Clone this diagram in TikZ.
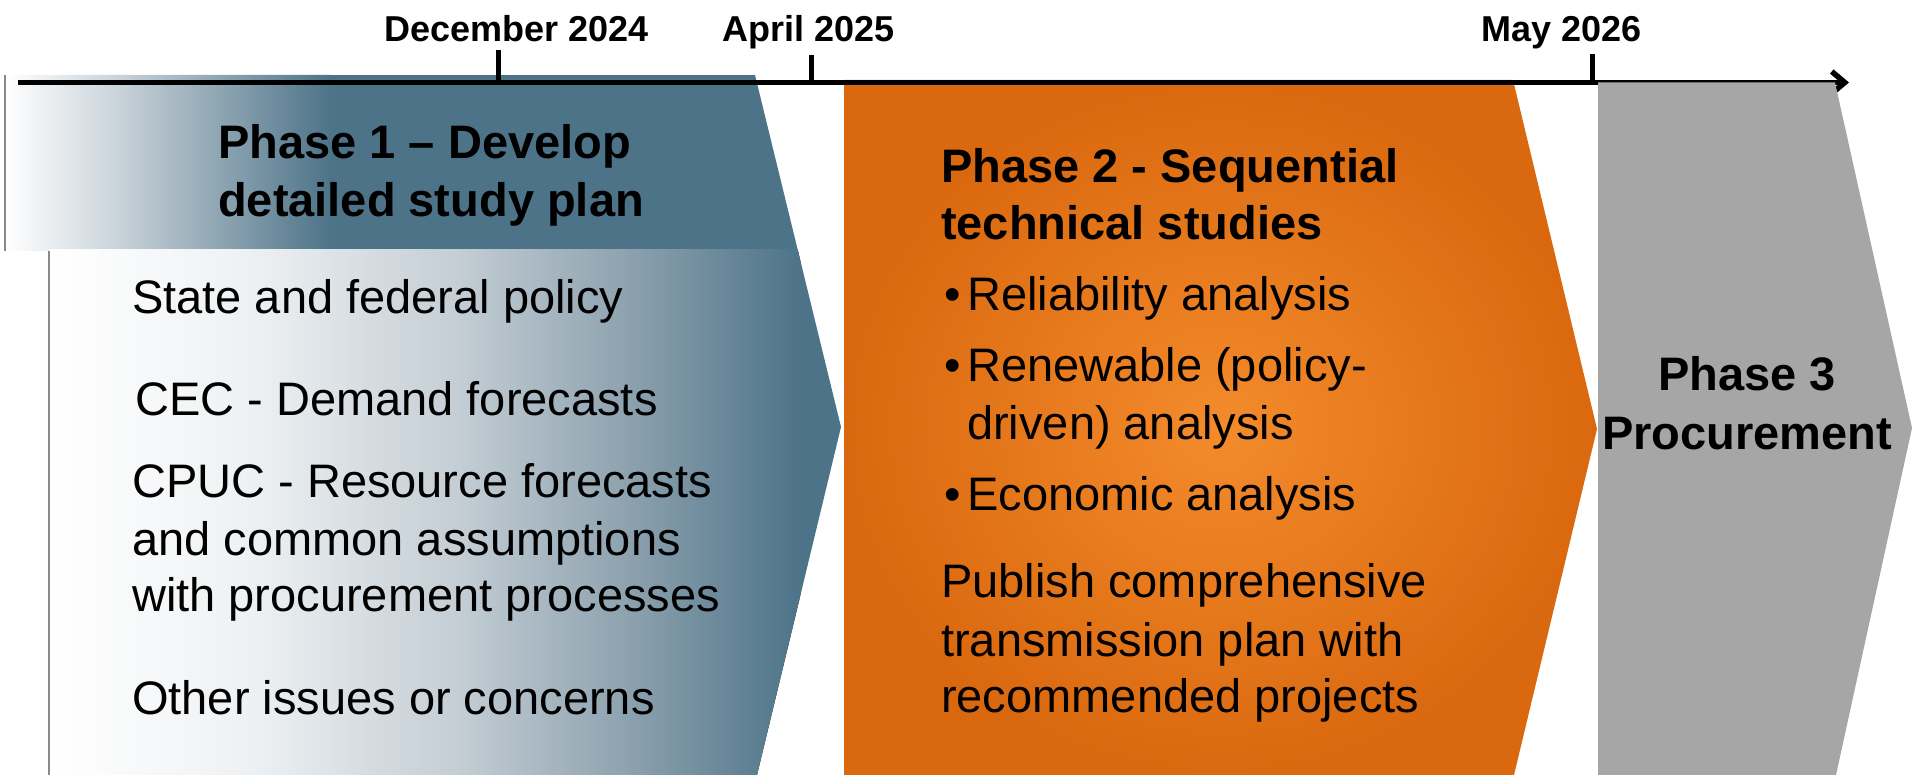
\documentclass[tikz,border=0pt]{standalone}
\usepackage{fontspec}
\setmainfont{Liberation Sans}
\usetikzlibrary{arrows.meta}
\definecolor{pblue}{HTML}{4D7388}
\definecolor{bla}{HTML}{C8D2D9}
\definecolor{blb}{HTML}{EEF1F3}
\definecolor{blc}{HTML}{C3CDD4}
\definecolor{bld}{HTML}{8CA1AE}
\definecolor{orout}{HTML}{DA680E}
\definecolor{orin}{HTML}{F38B2C}
\definecolor{pgray}{HTML}{A6A6A6}
\definecolor{edgegray}{HTML}{8A8A8A}
\begin{document}
\begin{tikzpicture}[x=1pt,y=-1pt,
  body/.style={anchor=base west, inner sep=0pt, font=\fontsize{47}{57}\selectfont},
  bodybf/.style={anchor=base west, inner sep=0pt, font=\fontsize{47}{57}\selectfont\bfseries},
  ctrbf/.style={anchor=base, inner sep=0pt, font=\fontsize{47}{57}\selectfont\bfseries},
  datelbl/.style={anchor=base west, inner sep=0pt, font=\fontsize{36}{42}\selectfont\bfseries},
  axisline/.style={line width=5.5pt, -{Straight Barb[length=13pt,width=22pt]}},
  tickline/.style={line width=5pt},
  edgeline/.style={edgegray, line width=1.6pt}]
\useasboundingbox (0,0) rectangle (1913,775);

% ---- Phase 1 shape
\begin{scope}
  \clip (5,75) -- (755,75) -- (841,427) -- (757,775) -- (49,775) -- (49,251) -- (5,251) -- cycle;
  \fill[left color=white, right color=bla] (5,75) rectangle (121,251);
  \fill[left color=bla, right color=pblue] (120,75) rectangle (331,251);
  \fill[pblue] (330,75) rectangle (900,251);
  \fill[left color=white, right color=blb] (49,250) rectangle (251,775);
  \fill[left color=blb, right color=blc] (250,250) rectangle (461,775);
  \fill[left color=blc, right color=bld] (460,250) rectangle (631,775);
  \fill[left color=bld, right color=pblue] (630,250) rectangle (801,775);
  \fill[pblue] (800,250) rectangle (900,775);
\end{scope}
\draw[edgeline] (5,75) -- (5,251);
\draw[edgeline] (49,251) -- (49,775);

% ---- Phase 2 shape
\shade[inner color=orin, outer color=orout] (844,80) -- (1513,80) -- (1597,429) -- (1514,775) -- (844,775) -- cycle;

% ---- timeline
\coordinate (tl0) at (18,82.5);
\coordinate (tl1) at (1849,82.5);
\coordinate (tdec) at (498,82.5);
\coordinate (tapr) at (811,82.5);
\coordinate (tmay) at (1592,82.5);
\draw[axisline] (tl0) -- (tl1);
\draw[tickline] (tdec) -- ++(0,-32);
\draw[tickline] (tapr) -- ++(0,-27);
\draw[tickline] (tmay) -- ++(0,-28);

% ---- Phase 3 shape
\fill[pgray] (1598,82.5) -- (1835,82.5) -- (1912,428) -- (1836,775) -- (1598,775) -- cycle;

% ---- date labels
\node[datelbl] (dec) at (384,42) {December 2024};
\node[datelbl] (apr) at (722,42) {April 2025};
\node[datelbl] (may) at (1481,42) {May 2026};

% ---- Phase 1 texts
\node[bodybf] (t1a) at (218,159) {Phase 1 – Develop};
\node[bodybf] (t1b) at (218,217) {detailed study plan};
\node[body] (l1) at (132,314) {State and federal policy};
\node[body] (l2) at (135,415) {CEC - Demand forecasts};
\node[body] (l3a) at (132,497) {CPUC - Resource forecasts};
\node[body] (l3b) at (132,555) {and common assumptions};
\node[body] (l3c) at (132,611) {with procurement processes};
\node[body] (l4) at (132,714) {Other issues or concerns};

% ---- Phase 2 texts
\node[bodybf] (t2a) at (941,183) {Phase 2 - Sequential};
\node[bodybf] (t2b) at (941,240) {technical studies};
\node[body] (bu1) at (944,311) {•};
\node[body] (b1) at (967,311) {Reliability analysis};
\node[body] (bu2) at (944,381) {•};
\node[body] (b2a) at (967,381) {Renewable (policy-};
\node[body] (b2b) at (967,439) {driven) analysis};
\node[body] (bu3) at (944,510) {•};
\node[body] (b3) at (967,510) {Economic analysis};
\node[body] (pub1) at (941,597) {Publish comprehensive};
\node[body] (pub2) at (941,656) {transmission plan with};
\node[body] (pub3) at (941,712) {recommended projects};

% ---- Phase 3 texts
\node[ctrbf] (t3a) at (1747,390) {Phase 3};
\node[ctrbf] (t3b) at (1747,449) {Procurement};
\end{tikzpicture}
\end{document}
